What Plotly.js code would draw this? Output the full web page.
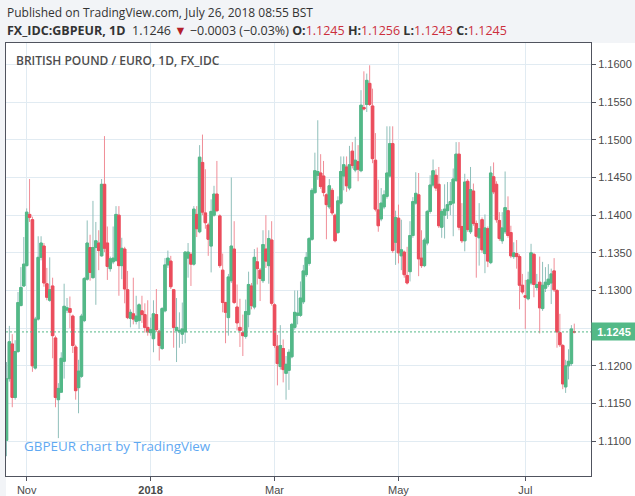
<!DOCTYPE html>
<html>
<head>
<meta charset="utf-8">
<script src="https://cdn.plot.ly/plotly-3.0.1.min.js"></script>
<style>
  html, body { margin: 0; padding: 0; background: #f2f4f7; }
  #chart { width: 635px; height: 496px; }
</style>
</head>
<body>
<div id="chart"></div>
<script>
// ---- data (GBPEUR daily) ----
const dates = [
  '2017-10-23','2017-10-24','2017-10-25','2017-10-26','2017-10-27','2017-10-30','2017-10-31',
  '2017-11-01','2017-11-02','2017-11-03','2017-11-06','2017-11-07','2017-11-08','2017-11-09','2017-11-10',
  '2017-11-13','2017-11-14','2017-11-15','2017-11-16','2017-11-17','2017-11-20','2017-11-21','2017-11-22',
  '2017-11-23','2017-11-24','2017-11-27','2017-11-28','2017-11-29','2017-11-30',
  '2017-12-01','2017-12-04','2017-12-05','2017-12-06','2017-12-07','2017-12-08','2017-12-11','2017-12-12',
  '2017-12-13','2017-12-14','2017-12-15','2017-12-18','2017-12-19','2017-12-20','2017-12-21','2017-12-22',
  '2017-12-25','2017-12-26','2017-12-27','2017-12-28','2017-12-29',
  '2018-01-01','2018-01-02','2018-01-03','2018-01-04','2018-01-05','2018-01-08','2018-01-09','2018-01-10',
  '2018-01-11','2018-01-12','2018-01-15','2018-01-16','2018-01-17','2018-01-18','2018-01-19','2018-01-22',
  '2018-01-23','2018-01-24','2018-01-25','2018-01-26','2018-01-29','2018-01-30','2018-01-31',
  '2018-02-01','2018-02-02','2018-02-05','2018-02-06','2018-02-07','2018-02-08','2018-02-09','2018-02-12',
  '2018-02-13','2018-02-14','2018-02-15','2018-02-16','2018-02-19','2018-02-20','2018-02-21','2018-02-22',
  '2018-02-23','2018-02-26','2018-02-27','2018-02-28',
  '2018-03-01','2018-03-02','2018-03-05','2018-03-06','2018-03-07','2018-03-08','2018-03-09','2018-03-12',
  '2018-03-13','2018-03-14','2018-03-15','2018-03-16','2018-03-19','2018-03-20','2018-03-21','2018-03-22',
  '2018-03-23','2018-03-26','2018-03-27','2018-03-28','2018-03-29','2018-03-30',
  '2018-04-02','2018-04-03','2018-04-04','2018-04-05','2018-04-06','2018-04-09','2018-04-10','2018-04-11',
  '2018-04-12','2018-04-13','2018-04-16','2018-04-17','2018-04-18','2018-04-19','2018-04-20','2018-04-23',
  '2018-04-24','2018-04-25','2018-04-26','2018-04-27','2018-04-30',
  '2018-05-01','2018-05-02','2018-05-03','2018-05-04','2018-05-07','2018-05-08','2018-05-09','2018-05-10',
  '2018-05-11','2018-05-14','2018-05-15','2018-05-16','2018-05-17','2018-05-18','2018-05-21','2018-05-22',
  '2018-05-23','2018-05-24','2018-05-25','2018-05-28','2018-05-29','2018-05-30','2018-05-31',
  '2018-06-01','2018-06-04','2018-06-05','2018-06-06','2018-06-07','2018-06-08','2018-06-11','2018-06-12',
  '2018-06-13','2018-06-14','2018-06-15','2018-06-18','2018-06-19','2018-06-20','2018-06-21','2018-06-22',
  '2018-06-25','2018-06-26','2018-06-27','2018-06-28','2018-06-29',
  '2018-07-02','2018-07-03','2018-07-05','2018-07-06','2018-07-09','2018-07-10','2018-07-11','2018-07-12',
  '2018-07-13','2018-07-16','2018-07-17','2018-07-18','2018-07-19','2018-07-20','2018-07-23','2018-07-24',
  '2018-07-25','2018-07-26'
];

const open = [
  1.1101,1.1183,1.1229,1.1158,1.1219,1.1280,1.1306,1.1333,1.1401,1.1394,
  1.1197,1.1262,1.1344,1.1359,1.1309,1.1287,1.1306,1.1237,1.1155,1.1165,
  1.1206,1.1274,1.1276,1.1266,1.1225,1.1171,1.1186,1.1260,1.1315,1.1357,
  1.1317,1.1357,1.1363,1.1346,1.1441,1.1363,1.1329,1.1338,1.1340,1.1400,
  1.1333,1.1355,1.1301,1.1263,1.1269,1.1259,1.1260,1.1273,1.1268,1.1251,
  1.1244,1.1236,1.1268,1.1246,1.1223,1.1273,1.1334,1.1339,1.1301,1.1247,
  1.1245,1.1242,1.1245,1.1343,1.1348,1.1335,1.1401,1.1378,1.1470,1.1403,
  1.1387,1.1359,1.1400,1.1428,1.1399,1.1327,1.1284,1.1264,1.1313,1.1355,
  1.1278,1.1251,1.1244,1.1239,1.1268,1.1306,1.1278,1.1338,1.1327,1.1313,
  1.1355,1.1333,1.1367,1.1281,1.1226,1.1199,1.1223,1.1190,1.1194,1.1212,
  1.1251,1.1267,1.1267,1.1285,1.1321,1.1336,1.1368,1.1430,1.1453,1.1456,
  1.1452,1.1427,1.1411,1.1433,1.1400,1.1377,1.1416,1.1452,1.1464,1.1436,
  1.1485,1.1460,1.1471,1.1459,1.1543,1.1547,1.1575,1.1545,1.1473,1.1407,
  1.1395,1.1411,1.1425,1.1452,1.1495,1.1364,1.1396,1.1346,1.1351,1.1320,
  1.1325,1.1373,1.1416,1.1427,1.1343,1.1333,1.1363,1.1405,1.1440,1.1453,
  1.1441,1.1384,1.1400,1.1406,1.1414,1.1416,1.1446,1.1481,1.1385,1.1366,
  1.1445,1.1378,1.1432,1.1389,1.1370,1.1394,1.1349,1.1382,1.1337,1.1451,
  1.1441,1.1393,1.1366,1.1378,1.1406,1.1377,1.1345,1.1349,1.1345,1.1307,
  1.1293,1.1289,1.1310,1.1348,1.1304,1.1311,1.1276,1.1303,1.1308,1.1310,
  1.1326,1.1300,1.1244,1.1227,1.1172,1.1200,1.1203,1.1245
];

const high = [
  1.1205,1.1253,1.1242,1.1234,1.1298,1.1331,1.1371,1.1409,1.1448,1.1398,
  1.1265,1.1372,1.1372,1.1363,1.1330,1.1344,1.1317,1.1240,1.1177,1.1218,
  1.1309,1.1290,1.1292,1.1268,1.1228,1.1208,1.1269,1.1318,1.1393,1.1374,
  1.1419,1.1391,1.1380,1.1448,1.1505,1.1385,1.1345,1.1385,1.1412,1.1412,
  1.1370,1.1358,1.1326,1.1275,1.1317,1.1293,1.1283,1.1293,1.1283,1.1287,
  1.1264,1.1287,1.1302,1.1248,1.1278,1.1343,1.1353,1.1346,1.1302,1.1290,
  1.1271,1.1284,1.1352,1.1363,1.1351,1.1412,1.1412,1.1493,1.1507,1.1461,
  1.1390,1.1421,1.1439,1.1472,1.1401,1.1349,1.1285,1.1322,1.1450,1.1392,
  1.1308,1.1289,1.1268,1.1288,1.1325,1.1310,1.1355,1.1357,1.1330,1.1380,
  1.1400,1.1380,1.1392,1.1283,1.1241,1.1254,1.1235,1.1213,1.1222,1.1257,
  1.1300,1.1300,1.1312,1.1334,1.1351,1.1371,1.1436,1.1483,1.1526,1.1481,
  1.1472,1.1429,1.1448,1.1436,1.1402,1.1425,1.1478,1.1478,1.1478,1.1492,
  1.1497,1.1504,1.1493,1.1566,1.1591,1.1588,1.1599,1.1568,1.1509,1.1447,
  1.1436,1.1433,1.1518,1.1518,1.1518,1.1406,1.1414,1.1394,1.1353,1.1358,
  1.1392,1.1424,1.1457,1.1456,1.1380,1.1370,1.1407,1.1453,1.1474,1.1461,
  1.1464,1.1408,1.1441,1.1444,1.1444,1.1462,1.1497,1.1497,1.1416,1.1455,
  1.1448,1.1464,1.1442,1.1393,1.1416,1.1397,1.1401,1.1385,1.1465,1.1470,
  1.1445,1.1404,1.1404,1.1458,1.1425,1.1386,1.1364,1.1367,1.1348,1.1322,
  1.1314,1.1325,1.1362,1.1350,1.1322,1.1345,1.1338,1.1331,1.1335,1.1329,
  1.1343,1.1302,1.1269,1.1229,1.1208,1.1222,1.1254,1.1256
];

const low = [
  1.1080,1.1179,1.1145,1.1155,1.1217,1.1279,1.1305,1.1332,1.1391,1.1192,
  1.1195,1.1260,1.1340,1.1305,1.1287,1.1285,1.1210,1.1145,1.1104,1.1164,
  1.1183,1.1270,1.1250,1.1217,1.1155,1.1137,1.1184,1.1258,1.1313,1.1313,
  1.1316,1.1281,1.1327,1.1345,1.1351,1.1314,1.1325,1.1335,1.1338,1.1293,
  1.1315,1.1283,1.1262,1.1251,1.1255,1.1255,1.1249,1.1257,1.1244,1.1240,
  1.1240,1.1218,1.1245,1.1207,1.1221,1.1271,1.1330,1.1302,1.1224,1.1205,
  1.1224,1.1229,1.1230,1.1317,1.1306,1.1333,1.1371,1.1376,1.1400,1.1382,
  1.1346,1.1324,1.1398,1.1404,1.1330,1.1271,1.1230,1.1240,1.1310,1.1282,
  1.1247,1.1225,1.1213,1.1236,1.1251,1.1275,1.1275,1.1308,1.1286,1.1310,
  1.1330,1.1309,1.1280,1.1224,1.1174,1.1195,1.1178,1.1155,1.1168,1.1210,
  1.1248,1.1255,1.1265,1.1282,1.1318,1.1333,1.1366,1.1428,1.1447,1.1435,
  1.1425,1.1368,1.1408,1.1400,1.1364,1.1375,1.1414,1.1433,1.1431,1.1433,
  1.1462,1.1457,1.1445,1.1457,1.1539,1.1537,1.1545,1.1469,1.1405,1.1378,
  1.1392,1.1408,1.1422,1.1450,1.1350,1.1334,1.1336,1.1327,1.1317,1.1308,
  1.1312,1.1370,1.1414,1.1319,1.1330,1.1331,1.1360,1.1402,1.1437,1.1432,
  1.1383,1.1370,1.1369,1.1395,1.1400,1.1372,1.1444,1.1380,1.1363,1.1352,
  1.1378,1.1375,1.1386,1.1317,1.1333,1.1350,1.1323,1.1331,1.1335,1.1428,
  1.1390,1.1366,1.1362,1.1375,1.1370,1.1343,1.1342,1.1329,1.1275,1.1295,
  1.1249,1.1287,1.1307,1.1291,1.1300,1.1243,1.1273,1.1298,1.1305,1.1282,
  1.1298,1.1224,1.1225,1.1169,1.1164,1.1182,1.1200,1.1243
];

const close = [
  1.1183,1.1232,1.1158,1.1219,1.1284,1.1304,1.1335,1.1404,1.1397,1.1200,
  1.1262,1.1344,1.1363,1.1310,1.1291,1.1301,1.1240,1.1158,1.1170,1.1210,
  1.1279,1.1277,1.1271,1.1227,1.1167,1.1193,1.1266,1.1316,1.1363,1.1324,
  1.1357,1.1366,1.1353,1.1441,1.1356,1.1332,1.1342,1.1343,1.1401,1.1333,
  1.1356,1.1302,1.1264,1.1271,1.1262,1.1266,1.1281,1.1268,1.1251,1.1245,
  1.1248,1.1269,1.1248,1.1227,1.1276,1.1334,1.1343,1.1305,1.1251,1.1251,
  1.1247,1.1249,1.1351,1.1351,1.1335,1.1408,1.1382,1.1477,1.1404,1.1390,
  1.1368,1.1405,1.1428,1.1406,1.1333,1.1284,1.1271,1.1318,1.1359,1.1284,
  1.1257,1.1247,1.1240,1.1272,1.1308,1.1280,1.1344,1.1329,1.1316,1.1361,
  1.1339,1.1369,1.1283,1.1227,1.1203,1.1227,1.1195,1.1202,1.1218,1.1255,
  1.1271,1.1270,1.1290,1.1326,1.1344,1.1369,1.1433,1.1459,1.1458,1.1438,
  1.1430,1.1414,1.1439,1.1403,1.1366,1.1419,1.1458,1.1467,1.1439,1.1467,
  1.1466,1.1473,1.1461,1.1546,1.1541,1.1579,1.1547,1.1475,1.1408,1.1386,
  1.1416,1.1427,1.1456,1.1495,1.1353,1.1397,1.1350,1.1354,1.1321,1.1310,
  1.1373,1.1418,1.1429,1.1342,1.1333,1.1367,1.1405,1.1440,1.1459,1.1436,
  1.1386,1.1405,1.1408,1.1414,1.1418,1.1448,1.1481,1.1384,1.1366,1.1444,
  1.1381,1.1434,1.1389,1.1372,1.1382,1.1354,1.1383,1.1339,1.1456,1.1431,
  1.1394,1.1369,1.1383,1.1410,1.1373,1.1346,1.1350,1.1345,1.1307,1.1298,
  1.1291,1.1314,1.1350,1.1308,1.1308,1.1277,1.1307,1.1311,1.1315,1.1322,
  1.1301,1.1245,1.1228,1.1176,1.1200,1.1206,1.1249,1.1245
];

const xTickVals = ['2017-11-01','2018-01-01','2018-03-01','2018-05-01','2018-07-02'];
const xTickText = ['Nov','<b>2018</b>','Mar','May','Jul'];
const yTickVals = [1.110,1.115,1.120,1.125,1.130,1.135,1.140,1.145,1.150,1.155,1.160];
// the 1.1250 label sits under the last-price tag, as in the reference
const yTickText = ['1.1100','1.1150','1.1200','','1.1300','1.1350','1.1400','1.1450','1.1500','1.1550','1.1600'];
const lastPrice = 1.1245;

// ---- styling ----
const UP = '#53b987', DOWN = '#eb4d5c';
const UP_WICK = '#8fbfba', DOWN_WICK = '#f08d97';
const AXIS = '#50535e', GRID = '#e1ebf2', TICKTXT = '#4a4a4a';
const RED_TXT = '#cc2f3c';

const bodyTop = open.map((o, i) => Math.max(o, close[i]));
const bodyBot = open.map((o, i) => Math.min(o, close[i]));

const wicks = {
  type: 'candlestick', x: dates, open: open, high: high, low: low, close: close,
  increasing: { line: { color: UP_WICK, width: 1 }, fillcolor: UP_WICK },
  decreasing: { line: { color: DOWN_WICK, width: 1 }, fillcolor: DOWN_WICK },
  whiskerwidth: 0, hoverinfo: 'skip', showlegend: false
};
const bodies = {
  type: 'candlestick', x: dates, open: open, high: bodyTop, low: bodyBot, close: close,
  increasing: { line: { color: UP, width: 1 }, fillcolor: UP },
  decreasing: { line: { color: DOWN, width: 1 }, fillcolor: DOWN },
  whiskerwidth: 0, hoverinfo: 'skip', showlegend: false
};

// plot area in pixels: x 6..591, y 43..476
const plotTop = 43, plotBottom = 476, plotH = plotBottom - plotTop;
const py = (p) => (plotBottom - p) / plotH;   // pixel row -> paper y
const px = (p) => (p - 6) / 585;              // pixel col -> paper x

const hdr2 = '<b>FX_IDC:GBPEUR, 1D</b>  1.1246 <span style="color:#b3202a">▼</span> \u22120.0003 (\u22120.03%) ' +
  '<b>O:</b><span style="color:' + RED_TXT + '">1.1245</span> ' +
  '<b>H:</b><span style="color:' + RED_TXT + '">1.1256</span> ' +
  '<b>L:</b><span style="color:' + RED_TXT + '">1.1243</span> ' +
  '<b>C:</b><span style="color:' + RED_TXT + '">1.1245</span>';

const layout = {
  width: 635, height: 496,
  margin: { l: 6, r: 44, t: plotTop, b: 496 - plotBottom, pad: 0 },
  paper_bgcolor: '#f2f4f7', plot_bgcolor: '#ffffff',
  showlegend: false, hovermode: false,
  boxmode: 'overlay', boxgap: 0.08, boxgroupgap: 0.08,
  xaxis: {
    type: 'category', range: [-0.17, 202.8], autorange: false,
    tickmode: 'array', tickvals: xTickVals, ticktext: xTickText,
    showgrid: true, gridcolor: GRID, gridwidth: 1, zeroline: false,
    showline: true, linecolor: AXIS, linewidth: 1, mirror: true,
    ticks: 'outside', ticklen: 4, tickcolor: AXIS,
    tickfont: { family: 'Liberation Sans, Arial, sans-serif', size: 11, color: TICKTXT },
    rangeslider: { visible: false }, fixedrange: true
  },
  yaxis: {
    side: 'right', range: [1.10537, 1.16286], autorange: false,
    tickmode: 'array', tickvals: yTickVals, ticktext: yTickText,
    showgrid: true, gridcolor: GRID, gridwidth: 1, zeroline: false,
    showline: true, linecolor: AXIS, linewidth: 1, mirror: true,
    ticks: 'outside', ticklen: 4, tickcolor: AXIS,
    tickfont: { family: 'Liberation Sans, Arial, sans-serif', size: 11, color: TICKTXT },
    fixedrange: true
  },
  shapes: [
    { type: 'rect', xref: 'paper', yref: 'paper', x0: 0, x1: px(640), y0: py(500), y1: 1,
      fillcolor: '#ffffff', line: { width: 0 }, layer: 'below' },
    { type: 'line', xref: 'paper', yref: 'y', x0: 0, x1: 1, y0: lastPrice, y1: lastPrice,
      line: { color: UP, width: 1, dash: '2px,2px' } }
  ],
  annotations: [
    { xref: 'paper', yref: 'paper', x: px(5), y: py(12), xanchor: 'left', yanchor: 'middle',
      text: 'Published on TradingView.com, July 26, 2018 08:55 BST', showarrow: false,
      font: { family: 'Open Sans, sans-serif', size: 12, color: '#333333' } },
    { xref: 'paper', yref: 'paper', x: px(5), y: py(30), xanchor: 'left', yanchor: 'middle',
      text: hdr2, showarrow: false,
      font: { family: 'Open Sans, sans-serif', size: 12.5, color: '#333333' } },
    { xref: 'paper', yref: 'paper', x: px(14), y: py(61), xanchor: 'left', yanchor: 'middle',
      text: 'BRITISH POUND / EURO, 1D, FX_IDC', showarrow: false,
      font: { family: 'Open Sans, sans-serif', size: 12, color: '#4d4d4d', weight: 600 } },
    { xref: 'paper', yref: 'paper', x: px(22), y: py(446), xanchor: 'left', yanchor: 'middle',
      text: 'GBPEUR chart by TradingView', showarrow: false,
      font: { family: 'Open Sans, sans-serif', size: 13.4, color: '#5fa9f2' } },
    { xref: 'paper', yref: 'y', x: 1, y: lastPrice, xanchor: 'left', yanchor: 'middle',
      text: '<b>1.1245</b>', showarrow: false, bgcolor: UP, width: 40, height: 13, borderpad: 2,
      align: 'center', font: { family: 'Liberation Sans, Arial, sans-serif', size: 11, color: '#ffffff' } }
  ]
};

Plotly.newPlot('chart', [wicks, bodies], layout, { staticPlot: true, displayModeBar: false });
</script>
</body>
</html>
